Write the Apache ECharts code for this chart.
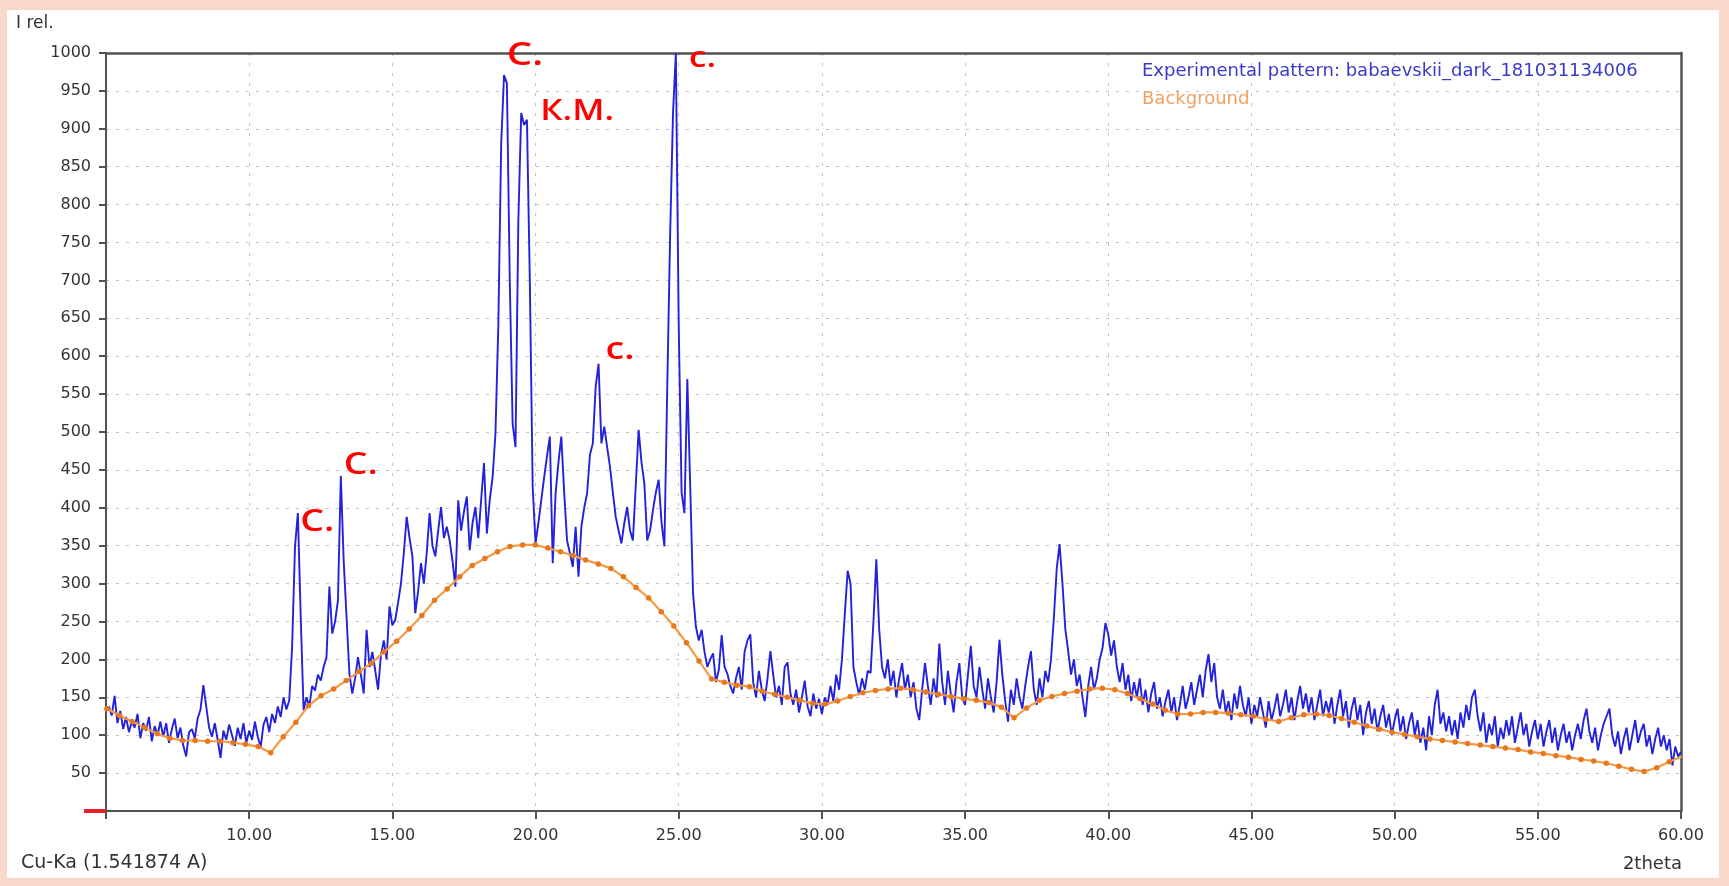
<!DOCTYPE html>
<html>
<head>
<meta charset="utf-8">
<script src="https://cdn.jsdelivr.net/npm/echarts@6/dist/echarts.min.js"></script>
<style>
html,body{margin:0;padding:0;background:#f7d8c9;}
#chart{width:1729px;height:886px;}
</style>
</head>
<body>
<div id="chart"></div>
<script>
// ---------- DATA ----------
// Experimental pattern, 2theta from 5.1 in steps of 0.1 deg
const expStart = 5.1, expStep = 0.1;
const expA = [ // 5.1 - 14.9
  138,126,152,116,132,108,124,104,118,
  110,128,96,116,106,124,92,112,100,118,
  98,116,90,108,122,96,110,86,72,104,
  108,96,122,134,166,138,110,98,116,94,
  70,106,94,114,100,86,110,95,116,90,
  106,94,118,98,84,114,124,104,128,116,
  138,124,150,134,146,217,349,393,256,133,
  150,138,165,159,180,172,190,203,296,234,
  250,278,442,330,256,181,155,175,203,180,
  155,239,190,210,186,160,205,225,200,270
];
const expB = [ // 15.0 - 24.9
  245,252,275,300,340,388,360,336,261,290,
  327,300,340,393,350,336,370,401,360,375,
  357,330,296,410,370,395,415,344,380,401,
  360,410,459,366,410,440,498,640,880,971,
  960,700,511,480,780,921,905,912,700,428,
  353,380,410,440,468,494,327,419,460,494,
  420,357,340,322,375,309,375,400,419,470,
  485,560,590,485,507,480,454,420,388,370,
  353,380,401,370,357,430,503,460,432,357,
  370,397,420,437,380,349,560,760,920,1000
];
const expC = [ // 25.0 - 34.9
  640,420,393,570,430,287,243,225,239,210,
  190,200,208,170,186,232,190,181,165,155,
  175,190,160,210,225,233,170,150,185,160,
  145,175,211,180,150,165,140,190,196,155,
  140,160,130,150,172,138,125,155,135,148,
  128,150,140,165,145,180,160,200,260,317,
  300,190,170,153,175,160,185,182,250,332,
  240,190,175,200,165,185,150,175,195,160,
  180,150,170,135,120,160,195,165,140,175,
  150,221,170,140,185,155,130,170,195,150
];
const expD = [ // 35.0 - 44.9
  140,180,218,165,150,190,160,135,175,150,
  130,170,226,180,145,118,160,140,175,150,
  135,165,190,211,160,140,175,150,185,170,
  200,255,320,352,300,240,211,180,200,165,
  180,150,124,165,190,160,175,200,215,248,
  233,205,225,190,170,195,160,180,145,170,
  150,175,140,160,130,155,170,135,150,125,
  145,160,130,150,120,140,165,135,150,170,
  140,160,180,150,185,207,170,195,150,135,
  160,130,145,120,155,135,165,140,125,150
];
const expE = [ // 45.0 - 60.0
  115,140,125,150,130,110,145,120,135,155,
  125,140,160,130,150,120,145,165,135,155,
  130,150,120,140,160,125,145,130,150,115,
  140,160,125,145,110,135,150,120,140,100,
  130,145,115,135,105,125,140,110,128,100,
  120,135,105,125,95,115,130,100,120,90,
  110,80,125,100,140,160,115,130,105,125,
  100,120,95,130,110,140,120,150,160,125,
  105,130,90,115,100,125,85,110,95,120,
  100,125,90,110,130,100,115,85,105,120,
  95,115,85,105,120,90,110,80,100,115,
  90,105,80,100,115,95,120,135,105,90,
  110,80,100,115,125,135,100,85,105,75,
  95,110,80,100,120,90,105,115,85,100,
  75,95,110,85,100,80,95,60,85,72,
  78
];
// Background curve, 2theta from 5.03 in steps of 0.44 deg
const bgStart = 5.03, bgStep = 0.44;
const bgValues = [
  135,126,118,110,102,96,93,93,92,92,
  90,88,85,77,98,117,139,152,161,172,
  184,195,210,224,240,258,278,293,309,324,
  333,342,349,351,351,347,342,337,331,326,
  320,309,295,281,263,244,222,198,174,170,
  166,164,158,154,150,146,142,141,145,151,
  156,159,161,162,160,157,154,151,148,146,
  143,137,123,136,146,151,155,158,161,162,
  160,155,148,141,133,128,128,130,130,129,
  127,125,121,118,123,127,128,126,122,117,
  112,108,104,101,98,95,93,91,89,87,
  85,83,81,78,76,73,71,68,66,63,
  59,55,52,57,65,72
];
// Axis ticks
const xTicks = [10, 15, 20, 25, 30, 35, 40, 45, 50, 55, 60];
const yTicks = [50,100,150,200,250,300,350,400,450,500,550,600,650,700,750,800,850,900,950,1000];
// Peak annotations (text, 2theta and intensity of the label centre, font size)
const annoText = ['С.', 'К.М.', 'с.', 'С.', 'С.', 'с.'];
const annoX    = [19.63, 21.45, 25.83, 12.38, 13.90, 22.95];
const annoY    = [996, 922, 992, 381, 456, 607];
const annoSize = [32, 28, 28, 30, 30, 30];
const legendNames = ['Experimental pattern: babaevskii_dark_181031134006', 'Background'];

// ---------- BUILD ----------
const expValues = expA.concat(expB, expC, expD, expE);
const expData = expValues.map((v, i) => [+(expStart + i * expStep).toFixed(2), v]);
const bgData = bgValues.map((v, i) => [+(bgStart + i * bgStep).toFixed(2), v]);

const FONT = 'DejaVu Sans';
const AXC = '#525252';
const chart = echarts.init(document.getElementById('chart'), null, {renderer: 'canvas'});
const frame = {type: 'rect', z: -10, silent: true, shape: {x: 7, y: 10, width: 1712, height: 868}, style: {fill: '#ffffff'}};
const option = {
  animation: false,
  backgroundColor: '#f7d8c9',
  graphic: [frame],
  title: [
    {text: 'I rel.', left: 11, top: 10, textStyle: {fontFamily: FONT, fontSize: 17, fontWeight: 'normal', color: '#333'}},
    {text: 'Cu-Ka (1.541874 A)', left: 16, top: 849, textStyle: {fontFamily: FONT, fontSize: 19, fontWeight: 'normal', color: '#333'}},
    {text: '2theta', right: 42, top: 850, textStyle: {fontFamily: FONT, fontSize: 18, fontWeight: 'normal', color: '#333'}}
  ],
  legend: {
    orient: 'vertical',
    left: 1132, top: 57,
    itemWidth: 0, itemHeight: 0, itemGap: 10,
    selectedMode: false,
    textStyle: {fontFamily: FONT, fontSize: 18},
    data: [
      {name: legendNames[0], icon: 'none', textStyle: {color: '#3a3ac8'}},
      {name: legendNames[1], icon: 'none', textStyle: {color: '#f0a060'}}
    ]
  },
  grid: {left: 106, right: 48, top: 53, bottom: 75},
  xAxis: [{
    type: 'value', min: 5, max: 60, interval: 5,
    axisLine: {onZero: false, lineStyle: {color: AXC, width: 2}},
    axisTick: {length: 8, lineStyle: {color: AXC, width: 2}},
    axisLabel: {
      margin: 17, fontFamily: FONT, fontSize: 16, color: '#333',
      formatter: v => xTicks.indexOf(v) >= 0 ? v.toFixed(2) : ''
    },
    splitLine: {show: true, lineStyle: {color: '#c4c4c4', width: 1, type: [3, 7]}}
  }, {
    type: 'value', min: 5, max: 60, position: 'top',
    axisLine: {onZero: false, lineStyle: {color: AXC, width: 2.5}},
    axisTick: {show: false}, axisLabel: {show: false}, splitLine: {show: false}
  }],
  yAxis: [{
    type: 'value', min: 0, max: 1000, interval: 50,
    axisLine: {show: true, onZero: false, lineStyle: {color: AXC, width: 2}},
    axisTick: {show: true, length: 7, lineStyle: {color: AXC, width: 2}},
    axisLabel: {
      margin: 15, fontFamily: FONT, fontSize: 16, color: '#333',
      formatter: v => yTicks.indexOf(v) >= 0 ? String(v) : ''
    },
    splitLine: {show: true, lineStyle: {color: '#c4c4c4', width: 1, type: [3, 7]}}
  }, {
    type: 'value', min: 0, max: 1000, position: 'right',
    axisLine: {show: true, onZero: false, lineStyle: {color: AXC, width: 2.5}},
    axisTick: {show: false}, axisLabel: {show: false}, splitLine: {show: false}
  }],
  series: [
    {
      name: legendNames[0], type: 'line', data: expData,
      showSymbol: false, z: 3,
      lineStyle: {color: '#2222dc', width: 1.9},
      itemStyle: {color: '#2222dc'}
    },
    {
      name: legendNames[1], type: 'line', data: bgData,
      symbol: 'circle', symbolSize: 5.5, showSymbol: true, z: 4,
      lineStyle: {color: '#f39a45', width: 2.2},
      itemStyle: {color: '#e8781e'}
    }
  ]
};
chart.setOption(option);

// Elements placed through the axis scales: red zero marker and peak labels
const p0 = chart.convertToPixel({gridIndex: 0}, [5, 0]);
const extra = [frame,
  {type: 'line', z: 100, silent: true, shape: {x1: p0[0] - 22, y1: p0[1], x2: p0[0], y2: p0[1]}, style: {stroke: '#e8202a', lineWidth: 4}}
];
annoText.forEach((t, i) => {
  const p = chart.convertToPixel({gridIndex: 0}, [annoX[i], annoY[i]]);
  extra.push({
    type: 'text', z: 100, silent: true, x: p[0], y: p[1], scaleX: 1.25,
    style: {text: t, x: 0, y: 0, align: 'center', verticalAlign: 'middle',
      fill: '#ff0000', font: '600 ' + annoSize[i] + 'px "Open Sans"'}
  });
});
chart.setOption({graphic: extra});
</script>
</body>
</html>
